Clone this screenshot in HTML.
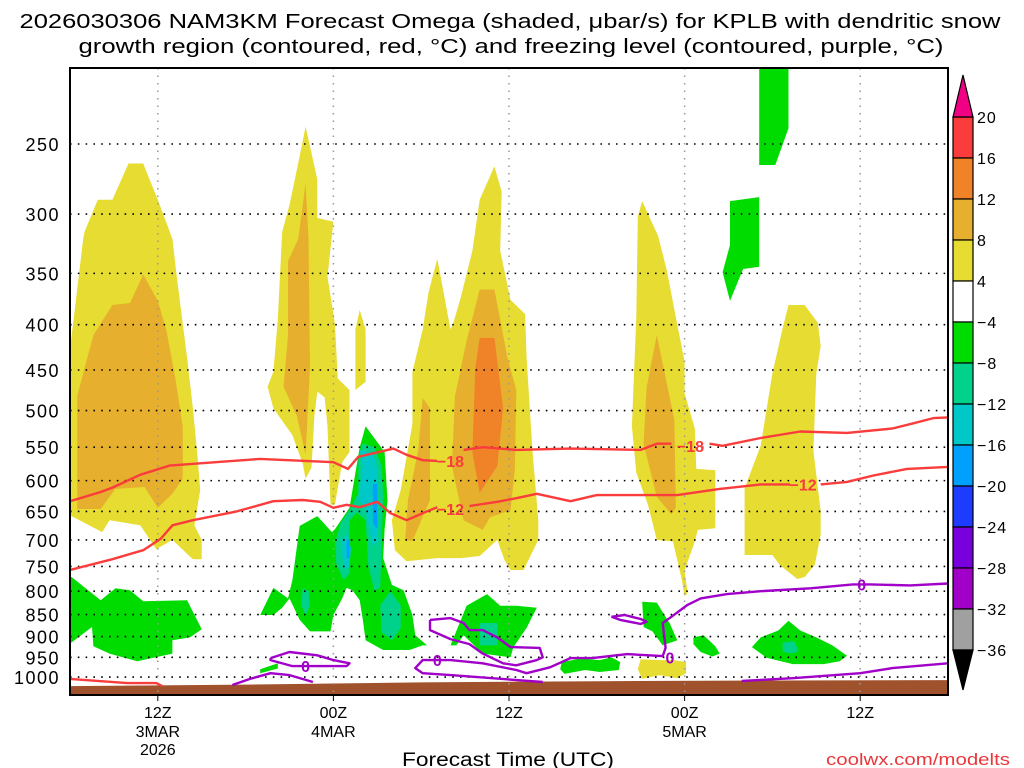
<!DOCTYPE html>
<html><head><meta charset="utf-8"><title>NAM3KM Omega KPLB</title>
<style>
html,body{margin:0;padding:0;background:#fff;}
svg{display:block;font-family:"Liberation Sans",sans-serif;}
</style></head>
<body>
<svg id="chart" width="1024" height="768" viewBox="0 0 1024 768" xmlns="http://www.w3.org/2000/svg">
<rect x="0" y="0" width="1024" height="768" fill="#fff"/>
<g fill="#000" font-size="20">
<text x="510" y="28" text-anchor="middle" textLength="981" lengthAdjust="spacingAndGlyphs">2026030306 NAM3KM Forecast Omega (shaded, μbar/s) for KPLB with dendritic snow</text>
<text x="511" y="53" text-anchor="middle" textLength="865" lengthAdjust="spacingAndGlyphs">growth region (contoured, red, °C) and freezing level (contoured, purple, °C)</text>
</g>
<defs><clipPath id="plotclip"><rect x="70" y="68" width="878" height="627"/></clipPath></defs>
<g id="shades" clip-path="url(#plotclip)"></g>
<g id="ground" clip-path="url(#plotclip)"></g>
<g id="grid"></g>
<g id="contours" clip-path="url(#plotclip)"></g>
<rect x="70" y="68" width="878" height="627" fill="none" stroke="#000" stroke-width="2"/>
<g id="axes"></g>
<g id="colorbar"></g>
<text x="508" y="766" text-anchor="middle" font-size="19" textLength="212" lengthAdjust="spacingAndGlyphs">Forecast Time (UTC)</text>
<text x="1010" y="765" text-anchor="end" font-size="17" fill="#e8383c" textLength="184" lengthAdjust="spacingAndGlyphs">coolwx.com/modelts</text>
</svg>
<script>
// ---- data ----
const yTickLevels = [250,300,350,400,450,500,550,600,650,700,750,800,850,900,950,1000];
const xTickHours = [6,18,30,42,54];
const xTickLabels = ["12Z","00Z","12Z","00Z","12Z"];
const xTickDates = ["3MAR","4MAR","","5MAR",""];
const xTickYears = ["2026","","","",""];
const cbLevels = [20,16,12,8,4,-4,-8,-12,-16,-20,-24,-28,-32,-36];
const cbColors = ["#fa3c3c","#f08228","#e6af2d","#e6dc32","#ffffff","#00dc00","#00d28c","#00c8c8","#00a0ff","#1e3cff","#7800dc","#a000c8","#a0a0a0"];
const surfaceHours = [0,12,24,36,48,60];
const surfaceP = [1024,1020,1014,1011,1009,1008];

// shaded omega regions, polygons of [hour, hPa], one array per omega class
const yellowRegions = [ // 4..8
 [[4.0,263],[5.0,263],[6.0,289],[7.0,320],[7.3,353],[8.0,436],[8.4,497],[8.7,560],[8.9,615],[8.5,674],[9.0,700],[9.0,736],[8.4,736],[7.0,700],[5.9,717],[4.8,674],[2.7,665],[2.2,686],[0.1,658],[0,658],[0,427],[0.9,320],[1.0,314],[1.9,289],[2.9,289]],
 [[16.1,239],[16.9,274],[16.9,303],[18.0,306],[17.6,353],[18.1,399],[18.3,460],[19.1,474],[19.1,557],[18.6,572],[18.1,639],[17.8,639],[17.6,521],[17.4,483],[16.9,476],[16.7,507],[16.5,580],[16.1,597],[15.9,574],[15.2,533],[13.9,497],[13.5,470],[13.9,452],[14.2,395],[14.5,314],[15.0,293],[15.7,258]],
 [[19.8,385],[20.2,405],[20.2,464],[19.5,474],[19.5,405]],
 [[29.0,265],[29.5,283],[29.4,330],[30.1,375],[31.1,389],[31.2,436],[31.6,554],[32.0,665],[32.0,700],[31.0,757],[30.1,757],[29.7,738],[29.2,700],[28.0,730],[26.7,734],[25.1,734],[23.0,740],[22.2,719],[22.0,665],[22.6,615],[23.4,518],[23.4,452],[24.1,405],[24.5,368],[25.1,337],[26.0,405],[26.2,398],[26.7,373],[27.5,330],[28.0,289]],
 [[39.1,290],[40.2,318],[40.8,348],[41.5,400],[42.0,440],[42.0,478],[42.7,524],[42.8,582],[44.1,584],[44.1,679],[42.9,682],[42.7,703],[42.0,758],[42.2,803],[42.0,811],[41.8,775],[41.2,703],[40.1,700],[39.5,639],[38.7,588],[38.4,521],[38.7,392],[38.8,302]],
 [[49.1,380],[50.2,380],[51.1,398],[51.3,423],[51.0,454],[50.8,555],[51.3,650],[51.3,690],[50.9,747],[50.2,771],[49.7,775],[48.5,747],[48.0,728],[46.1,728],[46.1,612],[47.2,548],[48.0,454],[48.7,404]],
 [[39.0,955],[40.3,957],[41.3,957],[42.1,962],[42.1,990],[41.5,1003],[40.3,995],[39.1,1005],[38.8,980]]
];
const orangeRegions = [ // 8..12
 [[5.0,351],[6.0,376],[6.6,407],[7.2,460],[7.7,521],[7.7,597],[7.0,621],[6.0,644],[5.1,610],[3.1,613],[2.1,646],[0.5,646],[0.5,481],[1.6,411],[2.9,380],[4.1,378]],
 [[16.1,277],[16.3,320],[16.4,446],[16.1,561],[15.5,507],[14.6,470],[14.9,411],[14.9,339],[15.6,320]],
 [[28.0,365],[29.0,365],[29.9,436],[30.5,474],[30.4,582],[30.1,648],[28.7,660],[28.2,682],[26.9,665],[26.1,578],[26.3,482],[27.1,417]],
 [[24.1,484],[24.6,497],[24.6,631],[23.4,702],[22.9,700],[23.1,631],[23.8,554]],
 [[40.1,411],[41.3,513],[41.4,644],[41.1,655],[40.1,626],[39.2,545],[39.4,471]]
];
const darkOrangeRegions = [ // 12..16
 [[28.0,414],[29.0,414],[29.6,497],[29.2,578],[28.0,619],[27.5,558],[27.7,448]]
];
const greenRegions = [ // -8..-4
 [[0.1,771],[2.1,819],[3.1,794],[4.1,798],[5.0,821],[8.0,819],[9.0,883],[8.2,902],[7.0,909],[7.0,941],[4.6,960],[2.7,941],[1.6,923],[1.5,878],[0.1,914],[0,914],[0,771]],
 [[13.0,851],[13.9,793],[14.9,815],[15.2,777],[15.7,675],[16.9,658],[17.9,686],[18.1,681],[19.1,644],[19.8,550],[20.2,521],[21.5,557],[21.7,631],[21.5,681],[21.4,734],[22.0,787],[22.8,798],[23.4,851],[23.6,897],[24.4,921],[26.0,921],[27.1,831],[28.5,806],[29.4,831],[30.5,831],[31.9,835],[31.2,880],[30.3,925],[30.1,950],[28.2,941],[26.9,897],[26.4,921],[24.1,921],[23.2,932],[21.4,932],[20.2,909],[20.0,860],[19.8,819],[19.3,798],[18.9,793],[18.6,815],[18.0,851],[17.8,888],[16.4,888],[15.7,862],[15.0,815],[14.5,835],[13.9,851]],
 [[13.0,980],[14.2,965],[14.2,978],[13.0,990]],
 [[47.1,205],[49.1,205],[49.1,240],[48.2,264],[47.1,264]],
 [[45.1,290],[47.1,287],[47.1,344],[46.0,346],[45.1,376],[44.6,349],[45.1,325]],
 [[46.6,925],[47.2,902],[48.4,886],[49.1,864],[49.9,886],[51.0,902],[52.1,921],[53.1,946],[52.6,960],[51.5,967],[49.4,967],[47.6,951]],
 [[42.6,902],[43.3,897],[44.1,923],[44.4,941],[43.9,948],[43.1,937],[42.6,918]],
 [[39.1,822],[40.1,824],[41.0,871],[41.5,909],[40.5,921],[39.8,888],[39.2,878]],
 [[33.6,962],[34.9,953],[36.2,957],[37.0,950],[37.6,962],[37.5,982],[36.2,987],[35.2,982],[33.8,992],[33.5,980]]
];
const tealRegions = [ // -12..-8
 [[20.0,545],[20.8,550],[21.3,578],[21.4,626],[21.3,700],[21.2,793],[20.8,798],[20.4,752],[20.2,665],[19.6,652],[19.1,665],[19.1,764],[18.7,777],[18.2,745],[18.1,706],[18.5,670],[19.1,648],[19.7,619],[19.7,569]],
 [[21.2,830],[21.9,800],[22.6,830],[22.6,880],[22.0,909],[21.3,890]],
 [[15.9,793],[16.3,800],[16.4,830],[16.1,851],[15.8,830]],
 [[28.0,869],[29.2,869],[29.2,921],[28.0,921]],
 [[48.7,914],[49.5,911],[49.8,935],[49.2,941],[48.7,935]]
];
const cyanRegions = [ // -16..-12
 [[19.8,554],[20.7,559],[21.0,584],[21.0,648],[21.0,700],[20.7,713],[20.4,674],[20.2,644],[19.7,631],[20.0,578]],
 [[18.6,700],[18.9,690],[19.2,715],[19.1,750],[18.8,756],[18.6,730]]
];
const blueRegions = [ // -20..-16
 [[20.7,605],[21.0,605],[21.0,680],[20.7,670]],
 [[18.9,700],[19.1,700],[19.1,734],[18.9,734]]
];

// red dendritic contours
const redLine18 = [[0,633],[2.1,618],[2.9,611],[4.8,591],[6.8,577],[13.0,567],[18.0,572],[19.0,582],[19.7,564],[22.1,552],[23.0,561],[24.1,569],[25.1,570],null,[26.9,554],[28.2,550],[30.5,554],[34.2,552],[39.0,554],[40.1,545],[41.1,545],null,[43.7,545],[44.6,548],[47.2,537],[49.9,528],[53.1,530],[56.2,524],[57.6,517],[59.0,510],[60,509]];
const redLine12 = [[0,757],[2.9,736],[5.0,719],[6.2,698],[7.0,674],[8.4,665],[11.4,650],[13.9,633],[15.9,631],[17.1,634],[18.0,644],[18.9,639],[19.8,643],[21.0,634],[21.9,653],[23.0,665],[24.1,653],[25.1,643],null,[27.3,641],[29.2,634],[30.5,628],[31.9,621],[34.2,633],[36.0,623],[39.2,623],[41.5,623],[44.4,613],[47.2,606],[49.2,606],null,[51.3,606],[53.1,602],[54.9,592],[57.2,582],[60,579]];
const redLineLow = [[0,1005],[3.9,1016],[5.9,1016],[6.3,1024]];
const redLabelPos18 = [[26.0,570],[42.4,548]];
const redLabelPos12 = [[26.0,646],[50.1,606]];

// purple freezing level contours
const frzMain = [[32.3,1013],[26.0,995],[24.1,990],[23.6,977],[24.1,957],[26.0,957],[28.2,965],[30.5,982],[31.2,990],[32.8,975],[34.2,952],[35.7,952],[38.1,942],[40.5,947],[40.7,927],[40.5,869],[41.1,855],[42.2,829],[43.1,815],[44.9,806],[47.2,800],[50.6,794],[53.5,786],[54.7,786],[57.4,788],[60,784]];
const frzLoop1 = [[24.6,862],[26.0,858],[26.9,869],[27.3,885],[28.2,885],[29.2,902],[30.1,925],[32.1,927],[32.3,950],[31.9,957],[30.5,970],[29.6,965],[28.2,941],[27.3,918],[26.0,906],[24.6,885],[24.6,862]];
const frzLoop2 = [[13.7,952],[15.0,937],[16.9,945],[18.0,957],[19.1,965],[18.9,972],[16.9,972],[15.2,972],[13.7,957],[13.7,952]];
const frzLoop3 = [[37.0,855],[37.9,851],[39.0,860],[39.4,866],[39.0,871],[37.6,862],[37.0,855]];
const frzLow1 = [[11.1,1021],[12.3,1005],[13.7,990],[15.0,995],[16.6,1013]];
const frzLow2 = [[45.9,1010],[49.4,1003],[54.0,990],[56.2,977],[60,965]];
const frzLabelPos = [[25.1,957],[41.0,950],[54.1,786],[16.1,972]];

// ---- scales ----
const X0=70, X1=948, H0=0, H1=60;
const xs = h => X0 + (h-H0)/(H1-H0)*(X1-X0);
const ys = p => 144 + 384.5*Math.log(p/250);
const NS="http://www.w3.org/2000/svg";
function mk(tag, parent, attrs){const e=document.createElementNS(NS,tag);for(const k in attrs)e.setAttribute(k,attrs[k]);parent.appendChild(e);return e;}
const ptsStr = arr => arr.map(d=>xs(d[0]).toFixed(1)+","+ys(d[1]).toFixed(1)).join(" ");

// ---- shading ----
const shades=document.getElementById("shades");
const shadeGroups = [
 [yellowRegions,cbColors[3],"omega-4-8-region"],
 [orangeRegions,cbColors[2],"omega-8-12-region"],
 [darkOrangeRegions,cbColors[1],"omega-12-16-region"],
 [greenRegions,cbColors[5],"omega-minus4-8-region"],
 [tealRegions,cbColors[6],"omega-minus8-12-region"],
 [cyanRegions,cbColors[7],"omega-minus12-16-region"],
 [blueRegions,cbColors[8],"omega-minus16-20-region"]
];
shadeGroups.forEach(([regions,color,name])=>{
  regions.forEach(pts=>{
    const el=mk("polygon",shades,{points:ptsStr(pts),fill:color});
    
    
  });
});

// ground
{const g=document.getElementById("ground");
const top=surfaceHours.map((h,i)=>[h,surfaceP[i]]);
const poly=top.concat([[60,1100],[0,1100]]);
const el=mk("polygon",g,{points:ptsStr(poly),fill:"#a0522d"});

}

// grid
const grid=document.getElementById("grid");
yTickLevels.forEach(p=>{const el=mk("line",grid,{x1:X0,x2:X1,y1:ys(p),y2:ys(p),stroke:"#000","stroke-width":1.6,"stroke-dasharray":"1.6 6.2"});

});
xTickHours.forEach(h=>{const el=mk("line",grid,{x1:xs(h),x2:xs(h),y1:68,y2:695,stroke:"#999","stroke-width":1.5,"stroke-dasharray":"1.5 6"});

});

// contours
const cont=document.getElementById("contours");
function linePath(arr){let d="",pen=false;arr.forEach(pt=>{if(!pt){pen=false;return;}d+=(pen?"L":"M")+xs(pt[0]).toFixed(1)+","+ys(pt[1]).toFixed(1);pen=true;});return d;}
[[redLine18,"dgz-minus18-contour"],[redLine12,"dgz-minus12-contour"],[redLineLow,"dgz-low-contour"]].forEach(([a,n])=>{
  const el=mk("path",cont,{d:linePath(a),fill:"none",stroke:"#fa3c3c","stroke-width":2.4,"stroke-linejoin":"round"});
  
  });
[frzMain,frzLoop1,frzLoop2,frzLoop3,frzLow1,frzLow2].forEach(a=>{
  const el=mk("path",cont,{d:linePath(a),fill:"none",stroke:"#a000c8","stroke-width":2.4,"stroke-linejoin":"round"});
  
  });
function lbl(pos,txt,col){const t=mk("text",cont,{x:xs(pos[0]),y:ys(pos[1])+6,"text-anchor":"middle","font-size":16,"font-weight":"bold",fill:col});t.textContent=txt;return t;}
redLabelPos18.forEach(p=>{const t=lbl(p,"−18","#fa3c3c");
});
redLabelPos12.forEach(p=>{const t=lbl(p,"−12","#fa3c3c");
});
frzLabelPos.forEach(p=>{const t=lbl(p,"0","#a000c8");
});

// axes
const axes=document.getElementById("axes");
yTickLevels.forEach(p=>{const t=mk("text",axes,{x:60,y:ys(p)+7,"text-anchor":"end","font-size":18,"letter-spacing":"1.5"});t.textContent=String(p);

});
xTickHours.forEach((h,i)=>{
  const tk=mk("line",axes,{x1:xs(h),x2:xs(h),y1:695,y2:701,stroke:"#000","stroke-width":1});
  
  
  [[xTickLabels[i],718],[xTickDates[i],737],[xTickYears[i],755]].forEach(([s,y])=>{if(!s)return;
    const t=mk("text",axes,{x:xs(h),y:y,"text-anchor":"middle","font-size":16});t.textContent=s;
    
    });
});

// colorbar
const cb=document.getElementById("colorbar");
const CB_X=953,CB_W=20,CB_TOP=117,CB_STEP=41;
cbColors.forEach((c,i)=>{const r=mk("rect",cb,{x:CB_X,y:CB_TOP+i*CB_STEP,width:CB_W,height:CB_STEP,fill:c,stroke:"#000","stroke-width":1.2});

});
{const t=mk("polygon",cb,{points:`${CB_X},${CB_TOP} ${CB_X+CB_W},${CB_TOP} ${CB_X+CB_W/2},75`,fill:"#f00082",stroke:"#000","stroke-width":1.2});


const bY=CB_TOP+cbColors.length*CB_STEP;
const b=mk("polygon",cb,{points:`${CB_X},${bY} ${CB_X+CB_W},${bY} ${CB_X+CB_W/2},690`,fill:"#000",stroke:"#000","stroke-width":1.2});

}
cbLevels.forEach((v,i)=>{const t=mk("text",cb,{x:977,y:CB_TOP+i*CB_STEP+6,"font-size":16,"letter-spacing":"1"});t.textContent=v<0?"−"+Math.abs(v):String(v);

});
</script>
</body></html>
